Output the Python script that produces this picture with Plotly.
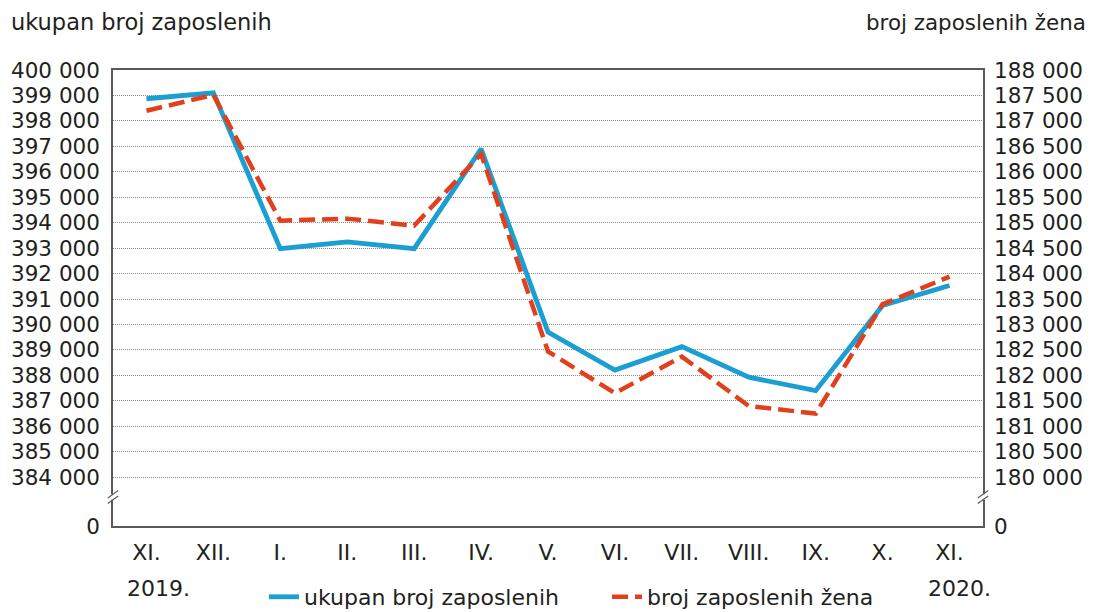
import plotly.graph_objects as go

months = ["XI.", "XII.", "I.", "II.", "III.", "IV.", "V.", "VI.", "VII.", "VIII.", "IX.", "X.", "XI."]
cat_ids = [f"{m}_{i}" for i, m in enumerate(months)]
total_employed = [398870, 399100, 392980, 393250, 392980, 396900, 389700, 388210, 389130, 387930, 387400, 390750, 391530]
women_employed = [187200, 187510, 185040, 185080, 184940, 186350, 182470, 181650, 182370, 181400, 181250, 183400, 183940]

left_ticks = list(range(384000, 400001, 1000))
right_ticks = list(range(180000, 188001, 500))
left_bottom = 382083
right_bottom = 180000 + (left_bottom - 384000) / 2

def fmt(v):
    return f"{v:,}".replace(",", " ")

BLUE = "#1B9ED2"
RED = "#E2401C"
FONT = "DejaVu Sans"
TXT = "#231F20"
AX = "#5a5a5a"

fig = go.Figure()
fig.add_trace(go.Scatter(x=cat_ids, y=total_employed, name="ukupan broj zaposlenih",
                         mode="lines", line=dict(color=BLUE, width=4.8), yaxis="y"))
fig.add_trace(go.Scatter(x=cat_ids, y=women_employed, name="broj zaposlenih žena",
                         mode="lines", line=dict(color=RED, width=4.5, dash="16px,7px"), yaxis="y2"))

W, H = 1087, 604
L, T = 105, 62
PW, PH = 870, 456

fig.update_layout(
    width=W, height=H,
    margin=dict(l=L, r=W - L - PW, t=T, b=H - T - PH, autoexpand=False),
    paper_bgcolor="white", plot_bgcolor="white",
    font=dict(family=FONT, size=21, color=TXT),
    showlegend=True,
    legend=dict(orientation="h", x=(256 - L) / PW, xanchor="left", y=-(589 - 518) / PH, yanchor="middle",
                font=dict(size=22), tracegroupgap=0, itemwidth=30,
                entrywidth=298, entrywidthmode="pixels"),
    xaxis=dict(type="category", tickvals=cat_ids, ticktext=months, showgrid=False,
               range=[-0.5, 12.5], automargin=False,
               showline=True, linecolor=AX, linewidth=1.5, mirror=True, ticks="",
               tickfont=dict(size=22), ticklabelstandoff=6),
    yaxis=dict(range=[left_bottom, 400000], tickvals=[left_bottom] + left_ticks,
               ticktext=["0"] + [fmt(v) for v in left_ticks], showgrid=True,
               gridcolor="#8a8a8a", griddash="1px,1px", gridwidth=1, automargin=False,
               showline=True, linecolor=AX, linewidth=1.5, ticks="", zeroline=False,
               tickfont=dict(size=21.5), ticklabelstandoff=7),
    yaxis2=dict(range=[right_bottom, 188000], overlaying="y", side="right",
                tickvals=[right_bottom] + right_ticks, automargin=False,
                ticktext=["0"] + [fmt(v) for v in right_ticks], showgrid=False,
                showline=True, linecolor=AX, linewidth=1.5, ticks="", zeroline=False,
                tickfont=dict(size=21.5), ticklabelstandoff=5),
)

fig.add_annotation(text="ukupan broj zaposlenih", xref="paper", yref="paper",
                   x=(1 - L) / PW, y=1 + (T - 14) / PH, xanchor="left", yanchor="middle",
                   showarrow=False, font=dict(size=22.5))
fig.add_annotation(text="broj zaposlenih žena", xref="paper", yref="paper",
                   x=(1080 - L) / PW, y=1 + (T - 14) / PH, xanchor="right", yanchor="middle",
                   showarrow=False, font=dict(size=21.4))
fig.add_annotation(text="2019.", xref="x", yref="paper", x=cat_ids[0], xshift=12,
                   y=-(580 - 518) / PH, yanchor="middle", showarrow=False, font=dict(size=22))
fig.add_annotation(text="2020.", xref="x", yref="paper", x=cat_ids[-1], xshift=10,
                   y=-(580 - 518) / PH, yanchor="middle", showarrow=False, font=dict(size=22))

# axis break marks
yb = (518 - 489) / PH
for xp in (0, 1):
    fig.add_shape(type="rect", xref="paper", yref="paper", x0=xp - 0.004, x1=xp + 0.004,
                  y0=yb - 0.006, y1=yb + 0.006, fillcolor="white", line=dict(width=0), layer="above")
    for dy in (-0.006, 0.006):
        fig.add_shape(type="line", xref="paper", yref="paper", x0=xp - 0.006, x1=xp + 0.006,
                      y0=yb + dy - 0.008, y1=yb + dy + 0.008, line=dict(color=AX, width=1.2),
                      layer="above")

fig.write_html("out.html")
